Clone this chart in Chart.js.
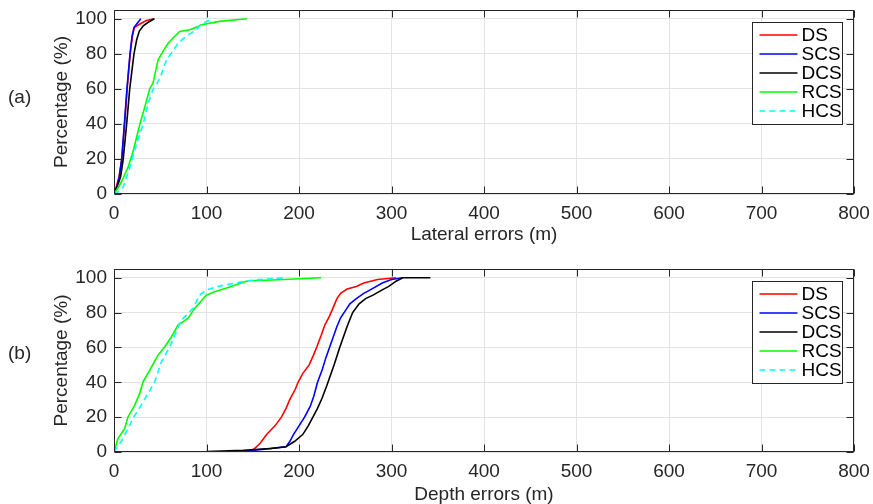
<!DOCTYPE html>
<html>
<head>
  <meta charset="UTF-8" />
  <title>Lateral and depth errors</title>
  <script src="https://cdn.jsdelivr.net/npm/chart.js"></script>
  <style>
    body { margin: 0; background: #fff; width: 873px; height: 504px; overflow: hidden;
           font-family: 'Liberation Sans', Arial, sans-serif; color: #262626; }
    .panel { position: absolute; left: 0; width: 873px; height: 252px; }
    .tag { position: absolute; font-size: 19px; line-height: 19px; }
  </style>
</head>
<body>
  <div class="panel" style="top:0"><canvas id="chartA"></canvas></div>
  <div class="panel" style="top:252px"><canvas id="chartB"></canvas></div>
  <div class="tag" style="left:8px; top:87px">(a)</div>
  <div class="tag" style="left:8px; top:343px">(b)</div>
  <script>
    const seriesNames = ['DS', 'SCS', 'DCS', 'RCS', 'HCS'];
    const seriesColors = ['#ff0000', '#0000ff', '#000000', '#00ff00', '#00ffff'];
    const xTicks = [0, 100, 200, 300, 400, 500, 600, 700, 800];
    const yTicks = [0, 20, 40, 60, 80, 100];

    // (a) lateral errors, m  vs  cumulative percentage
    const aDsErr  = [0, 3, 5.5, 8.5, 11.5, 14.2, 17.5, 19.8, 22, 28, 35, 43.6];
    const aDsPct  = [0, 5, 10, 20, 40, 60, 80, 90, 95, 97, 99, 100];
    const aScsErr = [0, 3, 5.8, 8.3, 11.2, 14, 17.3, 19.5, 21.6, 24.5, 29];
    const aScsPct = [0, 4, 10, 20, 40, 60, 80, 90, 95, 97, 100];
    const aDcsErr = [0, 4, 7.2, 10, 13.7, 17, 21.6, 24.5, 27.4, 31.7, 37, 43.6];
    const aDcsPct = [0, 5, 10, 20, 40, 60, 80, 88, 93, 96, 98, 100];
    const aRcsErr = [0, 5, 9, 15.5, 21, 28, 33.5, 38.6, 42.2, 47.7, 53, 58.5, 65.7, 71, 82, 91, 94.6, 114, 144];
    const aRcsPct = [0, 4, 8, 15.6, 25, 40, 50, 60, 63.3, 76.6, 81.4, 86, 90, 92.8, 93.7, 95.6, 96.6, 98.5, 100];
    const aHcsErr = [0, 4, 10, 17.3, 24.5, 31.7, 37, 42.5, 46.5, 51, 56.7, 62, 69.3, 78, 89, 92.8, 100, 107];
    const aHcsPct = [0, 1, 4, 15.6, 29, 40, 52, 60, 63, 68, 76.6, 80.4, 86, 90, 93.7, 96.2, 98.5, 100];

    // (b) depth errors, m  vs  cumulative percentage
    const bDsErr  = [147, 152, 158, 165, 174, 181, 186, 190, 196, 199, 204, 211, 216, 219, 224, 228, 233, 237, 241, 245, 252, 262, 270, 285, 305];
    const bDsPct  = [0.4, 2, 5, 10, 15, 20, 25, 30, 36, 40, 45, 50, 56, 60, 67, 73, 78, 83, 88, 91, 93.5, 95, 97, 99, 100];
    const bScsErr = [136, 160, 186, 190, 194, 200, 206, 212, 216, 220, 225, 229, 233, 237, 241, 245, 250, 255, 262, 270, 277, 290, 300, 312];
    const bScsPct = [0.2, 1.5, 3, 6, 10, 15, 20, 26, 32, 40, 47, 54, 60, 66, 72, 77, 81, 85, 88, 91, 93, 97, 99, 100];
    const bDcsErr = [100, 140, 170, 186, 195, 204, 210, 215, 220, 225, 230, 234, 238, 244, 248, 252, 258, 265, 272, 280, 290, 297, 305, 312, 342];
    const bDcsPct = [0.3, 1, 2, 3, 6, 10, 15, 20, 25, 31, 38, 44, 50, 60, 66, 72, 80, 85, 88, 90, 93, 95, 98, 100, 100];
    const bRcsErr = [0, 4.3, 11.5, 15.1, 22.3, 27.7, 31.4, 38.6, 47.6, 54.8, 62, 69.2, 80, 87.2, 99.8, 108.8, 121, 135.9, 145, 172, 224];
    const bRcsPct = [0, 7.7, 13.4, 20.1, 26.8, 33.5, 40.2, 46.9, 55.6, 60.3, 66, 72.8, 76.6, 82.4, 90, 92, 93.9, 96.7, 98.3, 98.7, 100];
    const bHcsErr = [0, 9.7, 20.5, 31.4, 44, 51.2, 60.2, 72.8, 85.4, 92.6, 99.8, 110.6, 128.6, 144.9, 172, 186];
    const bHcsPct = [0, 7.7, 19.2, 28.7, 40.2, 51.7, 60.3, 75.7, 82.4, 90, 92.9, 94.8, 96.7, 98.3, 99.6, 100];

    const FONT = { family: "'Liberation Sans', Arial, sans-serif", size: 19 };
    const INK = '#262626';

    function makeSets(pairs) {
      return pairs.map(([errs, pcts], i) => ({
        label: seriesNames[i],
        data: errs.map((e, k) => ({ x: e, y: pcts[k] })),
        borderColor: seriesColors[i],
        borderWidth: 1.6,
        borderDash: seriesNames[i] === 'HCS' ? [6, 4] : [],
        pointRadius: 0,
        tension: 0,
        fill: false,
        order: seriesNames.length - i
      }));
    }

    // box round the plot, inward tick marks, legend in the upper right
    const framePlugin = {
      id: 'frame',
      afterDraw(chart) {
        const { ctx, chartArea: a, scales: { x, y } } = chart;
        ctx.save();
        ctx.strokeStyle = INK;
        ctx.lineWidth = 1;
        ctx.setLineDash([]);
        const L = Math.round(a.left) + 0.5, R = Math.round(a.right) - 0.5;
        const T = Math.round(a.top) + 0.5, B = Math.round(a.bottom) - 0.5;
        ctx.strokeRect(L, T, R - L, B - T);
        ctx.beginPath();
        xTicks.forEach(v => {
          const px = Math.round(x.getPixelForValue(v)) + 0.5;
          ctx.moveTo(px, B); ctx.lineTo(px, B - 7);
          ctx.moveTo(px, T); ctx.lineTo(px, T + 7);
        });
        yTicks.forEach(v => {
          const py = Math.round(y.getPixelForValue(v)) + 0.5;
          ctx.moveTo(L, py); ctx.lineTo(L + 7, py);
          ctx.moveTo(R, py); ctx.lineTo(R - 7, py);
        });
        ctx.stroke();

        // legend
        const lx = 752.5, ly = a.top + 12.5, lw = 90, lh = 102;
        ctx.fillStyle = '#fff';
        ctx.fillRect(lx, ly, lw, lh);
        ctx.strokeRect(lx, ly, lw, lh);
        ctx.font = `${FONT.size}px ${FONT.family}`;
        ctx.textBaseline = 'middle';
        chart.data.datasets.forEach((ds, i) => {
          const yy = ly + 12.5 + i * 19;
          ctx.strokeStyle = ds.borderColor;
          ctx.lineWidth = 1.6;
          ctx.setLineDash(ds.borderDash);
          ctx.beginPath();
          ctx.moveTo(lx + 7, yy); ctx.lineTo(lx + 45, yy);
          ctx.stroke();
          ctx.fillStyle = '#000';
          ctx.fillText(ds.label, lx + 49, yy + 1);
        });
        ctx.restore();
      }
    };

    function drawPanel(id, sets, xTitle, topPad, xAxisH, titlePad) {
      return new Chart(document.getElementById(id), {
        type: 'line',
        data: { datasets: sets },
        plugins: [framePlugin],
        options: {
          responsive: true,
          maintainAspectRatio: false,
          animation: false,
          layout: { padding: { top: topPad, right: 19, left: 0, bottom: 0 } },
          plugins: { legend: { display: false }, tooltip: { enabled: false } },
          scales: {
            x: {
              type: 'linear', min: 0, max: 800,
              afterBuildTicks: s => { s.ticks = xTicks.map(v => ({ value: v })); },
              afterFit: s => { s.height = xAxisH; s.paddingLeft = 0; s.paddingRight = 0; },
              ticks: { color: INK, font: FONT, padding: 8, maxRotation: 0 },
              grid: { color: '#e3e3e3', drawTicks: false },
              border: { display: false },
              title: { display: true, text: xTitle, color: INK, font: FONT, padding: { top: 0, bottom: titlePad } }
            },
            y: {
              min: 0, max: 105,
              afterBuildTicks: s => { s.ticks = yTicks.map(v => ({ value: v })); },
              afterFit: s => { s.width = 114; s.paddingTop = 0; s.paddingBottom = 0; },
              ticks: { color: INK, font: FONT, padding: 7 },
              grid: { color: '#e3e3e3', drawTicks: false },
              border: { display: false },
              title: { display: true, text: 'Percentage (%)', color: INK, font: FONT, padding: { top: 50, bottom: 0 } }
            }
          }
        }
      });
    }

    drawPanel('chartA', makeSets([[aDsErr, aDsPct], [aScsErr, aScsPct], [aDcsErr, aDcsPct], [aRcsErr, aRcsPct], [aHcsErr, aHcsPct]]),
      'Lateral errors (m)', 10, 58, 6);
    drawPanel('chartB', makeSets([[bDsErr, bDsPct], [bScsErr, bScsPct], [bDcsErr, bDcsPct], [bRcsErr, bRcsPct], [bHcsErr, bHcsPct]]),
      'Depth errors (m)', 17, 52, -2);
  </script>
</body>
</html>
